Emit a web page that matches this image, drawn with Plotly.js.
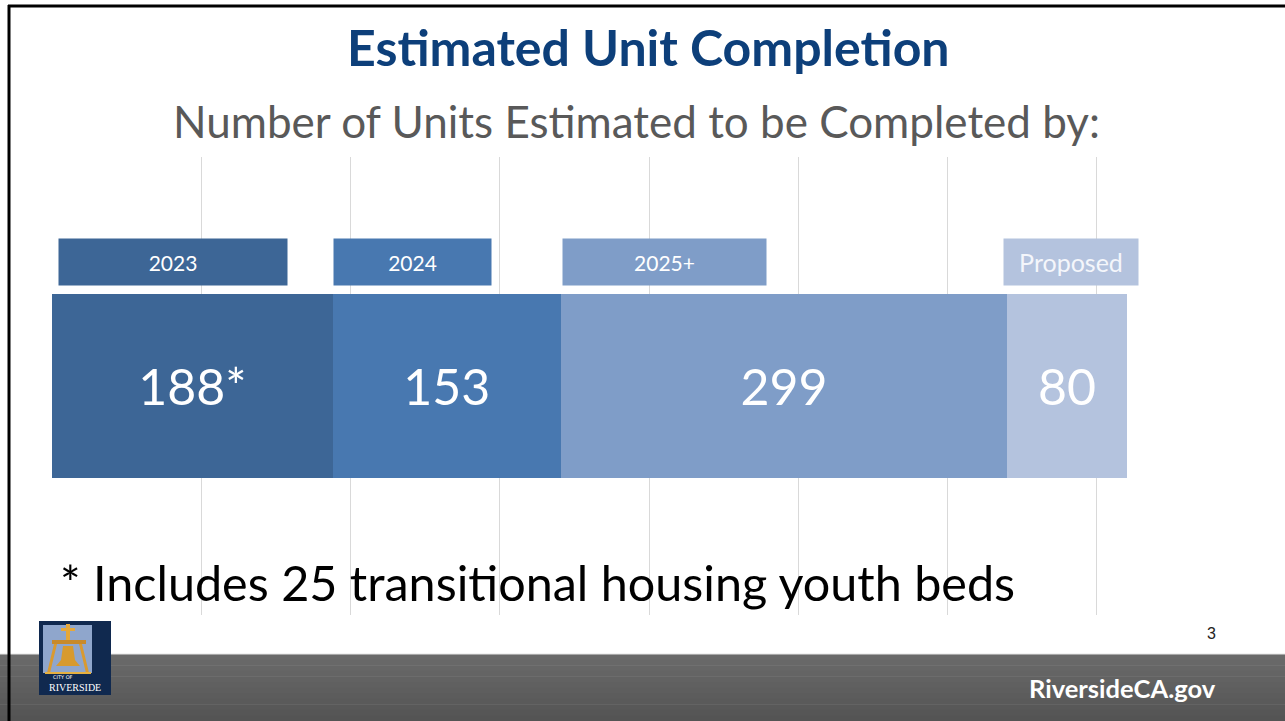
<!DOCTYPE html>
<html>
<head>
<meta charset="utf-8">
<script src="https://cdn.plot.ly/plotly-3.0.1.min.js"></script>
<style>html,body{margin:0;padding:0;background:#fff;}#chart{width:1285px;height:721px;}</style>
</head>
<body>
<div id="chart"></div>
<script>
// ---- data ----
const categories = ['2023', '2024', '2025+', 'Proposed'];
const values = [188, 153, 299, 80];
const valueLabels = ['188*', '153', '299', '80'];
const barColors = ['#3d6696', '#4878b0', '#7f9dc8', '#b4c3de'];
const boxWidths = [228, 157, 203, 134];
const boxShift = [6, 0, 1, -4];

// ---- layout helpers (pixel -> paper) ----
const W = 1285, H = 721;
const M = {l: 52, r: 39, t: 157, b: 106};
const PW = W - M.l - M.r, PH = H - M.t - M.b;
const px = p => (p - M.l) / PW;
const py = p => (H - M.b - p) / PH;

const traces = categories.map((c, i) => ({
  type: 'bar', orientation: 'h', name: c,
  y: ['Units'], x: [values[i]],
  marker: {color: barColors[i], line: {width: 0}},
  text: [valueLabels[i]], textposition: 'inside', insidetextanchor: 'middle',
  textfont: {family: 'Lato, sans-serif', size: 50, color: '#ffffff'},
  constraintext: 'none', hoverinfo: 'skip', width: 0.402
}));

const annotations = [];
let cum = 0;
categories.forEach((c, i) => {
  annotations.push({
    xref: 'x', yref: 'paper', x: cum, y: py(262), xanchor: 'left', yanchor: 'middle',
    xshift: boxShift[i],
    text: c, showarrow: false, width: boxWidths[i], height: 46, borderpad: 0,
    bgcolor: barColors[i], align: 'center', valign: 'middle',
    font: {family: 'Lato, sans-serif', size: i === 3 ? 25 : 21, color: i === 3 ? '#f4f6fb' : '#ffffff'}
  });
  cum += values[i];
});

annotations.push(
  {xref: 'paper', yref: 'paper', x: px(648), y: py(47), xanchor: 'center', yanchor: 'middle',
   text: '<b>Estimated Unit Completion</b>', showarrow: false,
   font: {family: 'Lato, sans-serif', size: 50, color: '#0d3f7a'}},
  {xref: 'paper', yref: 'paper', x: px(636), y: py(121), xanchor: 'center', yanchor: 'middle',
   text: 'Number of Units Estimated to be Completed by:', showarrow: false,
   font: {family: 'Lato, sans-serif', size: 44, color: '#595959'}},
  {xref: 'paper', yref: 'paper', x: px(58), y: py(582), xanchor: 'left', yanchor: 'middle',
   text: '* Includes 25 transitional housing youth beds', showarrow: false,
   font: {family: 'Lato, sans-serif', size: 48.5, color: '#000000'}},
  {xref: 'paper', yref: 'paper', x: px(1211), y: py(633), xanchor: 'center', yanchor: 'middle',
   text: '3', showarrow: false,
   font: {family: 'Liberation Sans, Arial, sans-serif', size: 16, color: '#222'}},
  {xref: 'paper', yref: 'paper', x: px(1122), y: py(688), xanchor: 'center', yanchor: 'middle',
   text: '<b>RiversideCA.gov</b>', showarrow: false,
   font: {family: 'Lato, sans-serif', size: 25.5, color: '#ffffff'}},
  {xref: 'paper', yref: 'paper', x: px(63), y: py(677), xanchor: 'center', yanchor: 'middle',
   text: 'CITY OF', showarrow: false,
   font: {family: 'DejaVu Sans, sans-serif', size: 5, color: '#ffffff'}},
  {xref: 'paper', yref: 'paper', x: px(75), y: py(687), xanchor: 'center', yanchor: 'middle',
   text: 'RIVERSIDE', showarrow: false,
   font: {family: 'Liberation Serif, serif', size: 10, color: '#ffffff'}}
);

const shapes = [];
// footer gradient band
const fTop = 654, fBot = 721, steps = 12;
for (let k = 0; k < steps; k++) {
  const y0 = fTop + (fBot - fTop) * k / steps, y1 = fTop + (fBot - fTop) * (k + 1) / steps + 0.5;
  const g = Math.round(106 - 22 * k / (steps - 1));
  shapes.push({type: 'rect', xref: 'paper', yref: 'paper', x0: px(0), x1: px(W), y0: py(y0), y1: py(y1),
    fillcolor: `rgb(${g},${g},${g})`, line: {width: 0}, layer: 'above'});
}
shapes.push({type: 'line', xref: 'paper', yref: 'paper', x0: px(0), x1: px(W), y0: py(654), y1: py(654),
  line: {color: '#e6e6e6', width: 1}, layer: 'above'});
// slide border
shapes.push({type: 'line', xref: 'paper', yref: 'paper', x0: px(8), x1: px(W), y0: py(6), y1: py(6),
  line: {color: '#000', width: 3}, layer: 'above'});
shapes.push({type: 'line', xref: 'paper', yref: 'paper', x0: px(9), x1: px(9), y0: py(5), y1: py(H),
  line: {color: '#000', width: 3}, layer: 'above'});
// logo
shapes.push({type: 'rect', xref: 'paper', yref: 'paper', x0: px(39), x1: px(111), y0: py(621), y1: py(695),
  fillcolor: '#10294f', line: {width: 0}, layer: 'above'});
shapes.push({type: 'rect', xref: 'paper', yref: 'paper', x0: px(43), x1: px(92), y0: py(625), y1: py(673),
  fillcolor: '#8fa6cc', line: {width: 0}, layer: 'above'});
shapes.push({type: 'rect', xref: 'paper', yref: 'paper', x0: px(52), x1: px(86), y0: py(640), y1: py(644),
  fillcolor: '#c88a2a', line: {width: 0}, layer: 'above'});
shapes.push({type: 'rect', xref: 'paper', yref: 'paper', x0: px(66), x1: px(70), y0: py(624), y1: py(640),
  fillcolor: '#e6a83a', line: {width: 0}, layer: 'above'});
shapes.push({type: 'rect', xref: 'paper', yref: 'paper', x0: px(61), x1: px(75), y0: py(628), y1: py(631),
  fillcolor: '#e6a83a', line: {width: 0}, layer: 'above'});
shapes.push({type: 'path', xref: 'paper', yref: 'paper', layer: 'above',
  path: `M ${px(54)} ${py(644)} L ${px(47)} ${py(673)} L ${px(50)} ${py(673)} L ${px(57)} ${py(644)} Z M ${px(82)} ${py(644)} L ${px(89)} ${py(673)} L ${px(86)} ${py(673)} L ${px(79)} ${py(644)} Z`,
  fillcolor: '#d99a30', line: {width: 0}});
shapes.push({type: 'path', xref: 'paper', yref: 'paper', layer: 'above',
  path: `M ${px(63)} ${py(646)} L ${px(73)} ${py(646)} L ${px(75)} ${py(660)} L ${px(80)} ${py(666)} L ${px(56)} ${py(666)} L ${px(61)} ${py(660)} Z`,
  fillcolor: '#d79a2e', line: {width: 0}});
shapes.push({type: 'rect', xref: 'paper', yref: 'paper', x0: px(45), x1: px(91), y0: py(672), y1: py(674),
  fillcolor: '#e6b040', line: {width: 0}, layer: 'above'});

const layout = {
  width: W, height: H,
  margin: M,
  paper_bgcolor: '#ffffff', plot_bgcolor: '#ffffff',
  barmode: 'stack', bargap: 0,
  showlegend: false,
  xaxis: {range: [0, 800], dtick: 100, tick0: 0, showgrid: true, gridcolor: '#d9d9d9', gridwidth: 1,
          zeroline: false, showticklabels: false, ticks: '', showline: false, fixedrange: true},
  yaxis: {range: [-0.5, 0.5], showgrid: false, zeroline: false, showticklabels: false, ticks: '',
          showline: false, fixedrange: true},
  annotations: annotations,
  shapes: shapes,
  font: {family: 'Lato, sans-serif'}
};

Plotly.newPlot('chart', traces, layout, {displayModeBar: false, staticPlot: true});
</script>
</body>
</html>
